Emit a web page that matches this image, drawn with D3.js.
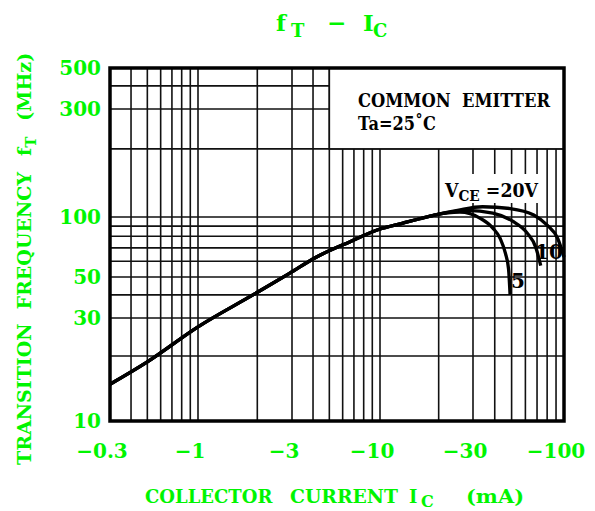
<!DOCTYPE html>
<html>
<head>
<meta charset="utf-8">
<script src="https://cdn.jsdelivr.net/npm/d3@7"></script>
<style>
  html, body { margin: 0; padding: 0; background: #fff; }
  svg { display: block; }
  text { font-family: "DejaVu Serif", serif; font-weight: bold; white-space: pre; }
</style>
</head>
<body>
<svg id="chart" width="595" height="511"></svg>
<script>
// ---------- data ----------
const xTickValues = [-0.3, -1, -3, -10, -30, -100];
const xTickLabels = ["\u22120.3", "\u22121", "\u22123", "\u221210", "\u221230", "\u2212100"];
const xGridValues = [-0.4, -0.5, -0.6, -0.7, -0.8, -0.9, -1, -2, -3, -4, -5, -6, -7, -8, -9,
                     -10, -20, -30, -40, -50, -60, -70, -80, -90];
const yTickValues = [10, 30, 50, 100, 300, 500];
const yTickLabels = ["10", "30", "50", "100", "300", "500"];
const yGridValues = [20, 30, 40, 50, 60, 70, 80, 90, 100, 200, 300, 400];

// shared part of the fT curve (Ic mA, fT MHz)
const commonCurve = [[-0.3, 14.8], [-0.5, 18.8], [-1, 27.3], [-1.9, 40], [-2.9, 52], [-4.2, 63],
                     [-6.6, 75], [-10, 87], [-13, 93], [-16, 98], [-19, 102]];
const vce20 = [[-25, 107], [-34, 111], [-49, 109], [-67, 102], [-80, 91], [-92, 78], [-100, 63]];
const vce10 = [[-28, 107], [-39, 104], [-51, 95], [-61.5, 83], [-69, 70], [-73.5, 57]];
const vce5  = [[-25.7, 105], [-33, 98.5], [-39, 88], [-43, 78], [-46, 66], [-48, 55], [-49, 40]];

// ---------- layout ----------
const mLeft = 110, mRight = 564, mTop = 68, mBottom = 421;
const green = "#00f500";

const svg = d3.select("#chart");

// piecewise log scales (the printed chart's decades are not perfectly uniform)
const x = d3.scaleLog().domain(xTickValues).range([mLeft, 198, 292, 380, 473, mRight]);
const y = d3.scaleLog().domain(yTickValues).range([mBottom, 318, 277, 217, 109, mTop]);

const grid = svg.append("g").attr("stroke", "#111").attr("stroke-width", 1.6);

grid.selectAll("line.v").data(xGridValues).join("line")
  .attr("class", "v")
  .attr("x1", d => x(d)).attr("x2", d => x(d))
  .attr("y1", mTop).attr("y2", mBottom);

grid.selectAll("line.h").data(yGridValues).join("line")
  .attr("class", "h")
  .attr("x1", mLeft).attr("x2", mRight)
  .attr("y1", d => y(d)).attr("y2", d => y(d));

// legend box (top right), bounded by the -5 mA and 200 MHz grid lines
svg.append("rect")
  .attr("x", x(-5)).attr("y", mTop)
  .attr("width", mRight - x(-5)).attr("height", y(200) - mTop)
  .attr("fill", "#fff").attr("stroke", "#111").attr("stroke-width", 1.6);

svg.append("text").attr("x", 358).attr("y", 107).attr("font-size", 18).attr("fill", "#000")
  .attr("textLength", 192).attr("lengthAdjust", "spacingAndGlyphs")
  .text("COMMON  EMITTER");
svg.append("text").attr("x", 358).attr("y", 130).attr("font-size", 18).attr("fill", "#000")
  .attr("textLength", 78).attr("lengthAdjust", "spacingAndGlyphs")
  .text("Ta=25\u02DAC");

// white patch behind the VCE label
svg.append("rect").attr("x", 442).attr("y", 174).attr("width", 96).attr("height", 29).attr("fill", "#fff");
const vl = svg.append("text").attr("x", 445).attr("y", 197).attr("font-size", 19).attr("fill", "#000")
  .attr("textLength", 93).attr("lengthAdjust", "spacingAndGlyphs");
vl.append("tspan").text("V");
vl.append("tspan").attr("font-size", 15).attr("dy", 4).text("CE");
vl.append("tspan").attr("dy", -4).text(" =20V");

// curves
const line = d3.line().x(d => x(d[0])).y(d => y(d[1])).curve(d3.curveMonotoneX);
const curves = [commonCurve.concat(vce20), commonCurve.concat(vce10), commonCurve.concat(vce5)];
svg.append("g").selectAll("path").data(curves).join("path")
  .attr("d", line)
  .attr("fill", "none").attr("stroke", "#000").attr("stroke-width", 3.3)
  .attr("stroke-linejoin", "round").attr("stroke-linecap", "butt");

svg.append("text").attr("x", 535).attr("y", 259).attr("font-size", 20).attr("fill", "#000").text("10");
svg.append("text").attr("x", 511).attr("y", 288).attr("font-size", 20).attr("fill", "#000").text("5");

// plot border
svg.append("rect").attr("x", mLeft).attr("y", mTop)
  .attr("width", mRight - mLeft).attr("height", mBottom - mTop)
  .attr("fill", "none").attr("stroke", "#000").attr("stroke-width", 3.5);

// y tick labels
svg.append("g").selectAll("text").data(yTickValues).join("text")
  .attr("x", 101).attr("y", d => y(d)).attr("dy", "0.37em")
  .attr("text-anchor", "end").attr("font-size", 20).attr("fill", green)
  .text((d, i) => yTickLabels[i]);

// x tick labels (digits centred on the tick, minus hanging to the left)
svg.append("g").selectAll("text").data(xTickValues).join("text")
  .attr("x", d => x(d) - 8).attr("y", 458)
  .attr("text-anchor", "middle").attr("font-size", 20).attr("fill", green)
  .text((d, i) => xTickLabels[i]);

// title  fT - IC
const t = svg.append("text").attr("y", 31).attr("font-size", 23).attr("fill", green);
t.append("tspan").attr("x", 276).text("f");
t.append("tspan").attr("x", 291).attr("font-size", 18).attr("dy", 6).text("T");
t.append("tspan").attr("x", 327).attr("dy", -6).text("\u2212");
t.append("tspan").attr("x", 363).text("I");
t.append("tspan").attr("x", 373).attr("font-size", 18).attr("dy", 6).text("C");

// x axis title
const xt = svg.append("text").attr("y", 503).attr("font-size", 18).attr("fill", green);
xt.append("tspan").attr("x", 145).text("COLLECTOR");
xt.append("tspan").attr("x", 290).attr("textLength", 108).attr("lengthAdjust", "spacingAndGlyphs").text("CURRENT");
xt.append("tspan").attr("x", 409).text("I");
xt.append("tspan").attr("x", 421).attr("font-size", 16).attr("dy", 4).text("C");
xt.append("tspan").attr("x", 466).attr("dy", -4).attr("textLength", 58).attr("lengthAdjust", "spacingAndGlyphs").text("(mA)");

// y axis title (reads bottom to top)
const yt = svg.append("text").attr("transform", "translate(31,465) rotate(-90)")
  .attr("font-size", 19).attr("fill", green);
yt.append("tspan").text("TRANSITION");
yt.append("tspan").attr("dx", 14).text("FREQUENCY");
yt.append("tspan").attr("dx", 16).text("f");
yt.append("tspan").attr("font-size", 15).attr("dy", 5).text("T");
yt.append("tspan").attr("dx", 16).attr("dy", -5).text("(MHz)");
</script>
</body>
</html>
